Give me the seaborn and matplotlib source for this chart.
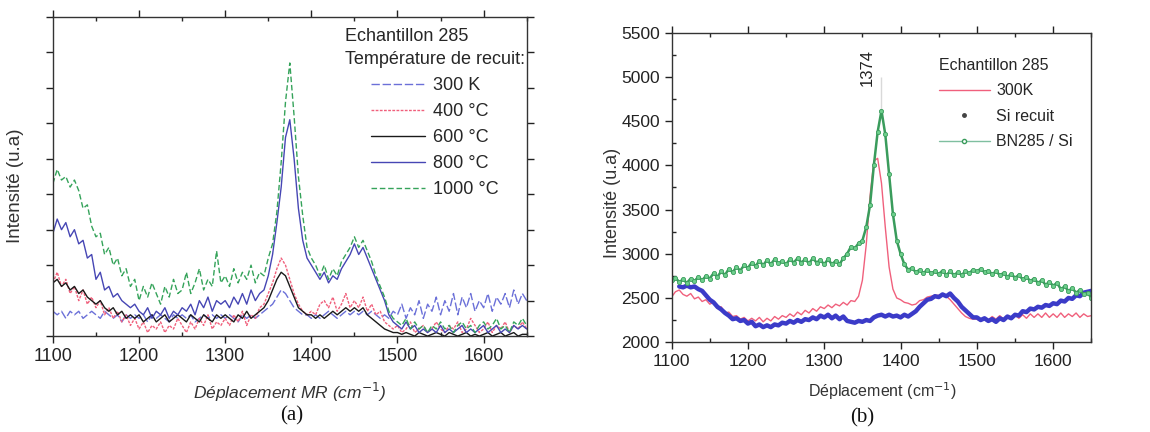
import numpy as np
import pandas as pd
import matplotlib
matplotlib.use("Agg")
import matplotlib.pyplot as plt
import seaborn as sns
from matplotlib.lines import Line2D
from matplotlib.ticker import MultipleLocator

# ---------------- data ----------------
wavenumber = np.arange(1100, 1651, 5)

# panel (a) : intensity (arbitrary units)
a_300K = [0.7, 0.6, 0.7, 0.5, 0.7, 0.6, 0.7, 0.5, 0.6, 0.7,
          0.6, 0.5, 0.7, 0.6, 0.5, 0.6, 0.4, 0.6, 0.5, 0.6,
          0.5, 0.6, 0.4, 0.6, 0.5, 0.6, 0.5, 0.4, 0.6, 0.5,
          0.6, 0.5, 0.6, 0.4, 0.5, 0.6, 0.5, 0.6, 0.5, 0.6,
          0.5, 0.6, 0.5, 0.4, 0.6, 0.5, 0.6, 0.5, 0.6, 0.7,
          0.8, 0.9, 1.1, 1.3, 1.2, 1.0, 0.8, 0.7, 0.6, 0.6,
          0.5, 0.6, 0.5, 0.6, 0.7, 0.6, 0.5, 0.6, 0.7, 0.6,
          0.7, 0.6, 0.7, 0.6, 0.7, 0.6, 0.5, 0.6, 0.5, 0.7,
          0.6, 0.9, 0.5, 0.8, 0.6, 1.0, 0.5, 0.9, 0.7, 1.1,
          0.6, 1.0, 0.7, 1.2, 0.6, 1.1, 0.8, 1.2, 0.7, 1.0,
          0.8, 1.2, 0.7, 1.1, 0.9, 1.2, 0.8, 1.3, 0.9, 1.2,
          1.0]
a_400C = [1.5, 1.8, 1.4, 1.6, 1.2, 1.4, 1.0, 1.3, 0.9, 1.1,
          0.8, 1.0, 0.6, 0.8, 0.5, 0.7, 0.4, 0.6, 0.3, 0.5,
          0.2, 0.4, 0.1, 0.3, 0.2, 0.4, 0.1, 0.3, 0.2, 0.5,
          0.3, 0.1, 0.4, 0.2, 0.5, 0.3, 0.6, 0.2, 0.4, 0.3,
          0.5, 0.3, 0.6, 0.4, 0.7, 0.3, 0.6, 0.5, 0.8, 0.9,
          1.2, 1.5, 1.9, 2.2, 2.0, 1.6, 1.2, 0.9, 0.7, 0.6,
          0.7, 0.6, 0.9, 1.0, 0.8, 1.1, 0.7, 0.9, 1.2, 0.8,
          1.0, 0.8, 1.1, 0.7, 0.9, 0.6, 0.7, 0.4, 0.3, 0.2,
          0.3, 0.1, 0.2, 0.4, 0.1, 0.2, 0.3, 0.1, 0.2, 0.4,
          0.2, 0.1, 0.3, 0.2, 0.4, 0.1, 0.2, 0.5, 0.3, 0.1,
          0.2, 0.4, 0.1, 0.3, 0.2, 0.4, 0.1, 0.3, 0.2, 0.4,
          0.2]
a_600C = [1.5, 1.6, 1.4, 1.5, 1.3, 1.4, 1.2, 1.3, 1.1, 1.0,
          0.9, 1.0, 0.8, 0.7, 0.8, 0.6, 0.7, 0.5, 0.6, 0.5,
          0.6, 0.4, 0.5, 0.6, 0.4, 0.5, 0.6, 0.4, 0.5, 0.6,
          0.5, 0.4, 0.6, 0.5, 0.4, 0.6, 0.5, 0.4, 0.6, 0.5,
          0.6, 0.5, 0.4, 0.6, 0.5, 0.7, 0.5, 0.6, 0.7, 0.8,
          1.0, 1.3, 1.6, 1.8, 1.7, 1.4, 1.1, 0.8, 0.7, 0.6,
          0.6, 0.5, 0.6, 0.5, 0.6, 0.7, 0.6, 0.7, 0.8, 0.7,
          0.8, 0.7, 0.8, 0.6, 0.5, 0.4, 0.3, 0.2, 0.15, 0.1,
          0.1, 0.05, 0.1, 0.05, 0.0, 0.1, 0.05, 0.0, 0.05, 0.1,
          0.05, 0.0, 0.1, 0.05, 0.0, 0.05, 0.1, 0.0, 0.05, 0.0,
          0.05, 0.1, 0.0, 0.05, 0.1, 0.0, 0.05, 0.1, 0.0, 0.05,
          0.05]
a_800C = [2.9, 3.3, 3.0, 3.2, 2.8, 3.0, 2.6, 2.7, 2.2, 2.3,
          1.6, 1.8, 1.3, 1.4, 1.1, 1.2, 1.0, 0.9, 0.8, 0.9,
          0.7, 0.6, 0.8, 0.5, 0.7, 0.6, 0.8, 0.5, 0.7, 0.6,
          0.8, 0.7, 0.9, 0.6, 1.0, 0.8, 1.1, 0.7, 1.0, 0.9,
          1.0, 0.8, 1.1, 0.9, 1.2, 0.9, 1.3, 1.0, 1.2, 1.3,
          1.7, 2.3, 3.2, 4.2, 5.6, 6.1, 5.0, 3.6, 2.7, 2.2,
          2.0, 1.8, 1.6, 1.8, 1.5, 1.7, 1.6, 1.9, 2.1, 2.3,
          2.6, 2.3, 2.5, 2.2, 1.9, 1.6, 1.3, 1.0, 0.6, 0.4,
          0.3, 0.2, 0.4, 0.2, 0.3, 0.1, 0.2, 0.1, 0.2, 0.1,
          0.3, 0.1, 0.2, 0.1, 0.2, 0.3, 0.1, 0.2, 0.1, 0.2,
          0.3, 0.1, 0.2, 0.3, 0.1, 0.2, 0.1, 0.3, 0.2, 0.3,
          0.2]
a_1000C = [4.3, 4.7, 4.4, 4.5, 4.2, 4.4, 4.1, 3.6, 3.7, 3.1,
           2.8, 2.9, 2.3, 2.5, 2.0, 2.2, 1.7, 1.9, 1.4, 1.6,
           1.0, 1.4, 1.1, 1.5, 1.2, 0.9, 1.4, 1.1, 1.6, 1.2,
           1.3, 1.8, 1.2, 1.5, 1.9, 1.3, 1.6, 1.4, 2.4, 1.5,
           1.7, 1.4, 1.9, 1.5, 1.8, 1.6, 2.0, 1.5, 1.8, 1.7,
           2.2, 2.6, 3.5, 4.9, 6.6, 7.7, 6.2, 4.5, 3.4, 2.5,
           2.2, 2.0, 1.7, 2.0, 1.6, 1.9, 1.7, 2.1, 2.3, 2.5,
           2.8, 2.5, 2.7, 2.4, 2.1, 1.7, 1.4, 1.1, 0.7, 0.5,
           0.4, 0.3, 0.5, 0.2, 0.4, 0.2, 0.3, 0.1, 0.3, 0.2,
           0.4, 0.2, 0.3, 0.1, 0.3, 0.4, 0.2, 0.3, 0.1, 0.3,
           0.4, 0.2, 0.3, 0.5, 0.2, 0.3, 0.1, 0.4, 0.3, 0.5,
           0.3]
a_labels = ["300 K", "400 °C", "600 °C", "800 °C", "1000 °C"]

# panel (b) : intensity (u.a)
b_300K = [2510, 2570, 2590, 2540, 2520, 2550, 2490, 2510, 2460, 2480,
          2430, 2450, 2380, 2400, 2330, 2340, 2290, 2300, 2260, 2280,
          2240, 2270, 2240, 2280, 2230, 2270, 2240, 2290, 2260, 2300,
          2280, 2320, 2290, 2340, 2310, 2360, 2330, 2380, 2350, 2400,
          2380, 2420, 2390, 2430, 2410, 2450, 2420, 2470, 2460, 2520,
          2700, 3100, 3650, 4050, 4080, 3800, 3300, 2850, 2600, 2500,
          2480, 2450, 2440, 2420, 2430, 2470, 2480, 2510, 2520, 2530,
          2530, 2540, 2520, 2480, 2430, 2380, 2330, 2290, 2270, 2260,
          2260, 2240, 2270, 2250, 2290, 2260, 2300, 2260, 2300, 2270,
          2310, 2270, 2310, 2270, 2320, 2280, 2320, 2280, 2330, 2280,
          2320, 2280, 2330, 2280, 2320, 2290, 2330, 2280, 2320, 2290,
          2300]
b_si_recuit = [np.nan, np.nan, 2630, 2620, 2640, 2620, 2630, 2600, 2580, 2530,
               2480, 2450, 2400, 2370, 2330, 2300, 2260, 2270, 2240, 2250,
               2210, 2230, 2180, 2200, 2170, 2190, 2170, 2200, 2190, 2220,
               2210, 2240, 2220, 2250, 2230, 2260, 2250, 2280, 2260, 2300,
               2280, 2310, 2270, 2300, 2260, 2290, 2240, 2230, 2220, 2240,
               2230, 2250, 2240, 2280, 2300, 2310, 2290, 2310, 2290, 2300,
               2280, 2310, 2290, 2320, 2350, 2400, 2440, 2480, 2490, 2520,
               2510, 2540, 2520, 2550, 2500, 2460, 2400, 2360, 2320, 2280,
               2280, 2250, 2270, 2240, 2260, 2230, 2270, 2250, 2290, 2270,
               2310, 2300, 2350, 2340, 2380, 2370, 2400, 2390, 2420, 2410,
               2440, 2430, 2470, 2460, 2500, 2490, 2530, 2520, 2560, 2570,
               2580]
b_bn285_si = [2700, 2730, 2680, 2710, 2670, 2720, 2690, 2740, 2700, 2750,
              2720, 2780, 2740, 2800, 2760, 2830, 2790, 2850, 2810, 2870,
              2840, 2900, 2860, 2920, 2870, 2930, 2880, 2940, 2890, 2920,
              2880, 2940, 2900, 2950, 2900, 2940, 2890, 2950, 2900, 2930,
              2880, 2940, 2880, 2920, 2880, 2950, 3000, 3080, 3060, 3120,
              3150, 3300, 3550, 4000, 4380, 4620, 4350, 3900, 3450, 3150,
              3000, 2880, 2820, 2840, 2790, 2820, 2780, 2820, 2780, 2800,
              2770, 2810, 2760, 2800, 2760, 2790, 2760, 2800, 2780, 2820,
              2800, 2830, 2790, 2810, 2770, 2800, 2760, 2780, 2740, 2770,
              2730, 2760, 2710, 2740, 2690, 2720, 2670, 2700, 2650, 2680,
              2640, 2670, 2600, 2630, 2580, 2610, 2560, 2590, 2540, 2560,
              2500]
b_labels = ["300K", "Si recuit", "BN285 / Si"]
peak_position = 1374
peak_marker_range = [4620, 5000]

# ---------------- figure ----------------
sns.set_theme(style="white")
plt.rcParams["font.family"] = ["Liberation Sans", "DejaVu Sans"]

fig = plt.figure(figsize=(11.5, 4.32), dpi=100)
axA = fig.add_axes([0.046, 0.222, 0.412, 0.739])
axB = fig.add_axes([0.584, 0.208, 0.365, 0.716])

# ---- panel (a)
a_series = [a_300K, a_400C, a_600C, a_800C, a_1000C]
a_colors = ["#6b70d8", "#f0607c", "#1a1a1a", "#4646b4", "#35a35a"]
a_styles = [(0, (6, 2)), (0, (2, 1)), "-", "-", (0, (4, 2))]
for vals, lab, col, ls in zip(a_series, a_labels, a_colors, a_styles):
    sns.lineplot(x=wavenumber, y=vals, ax=axA, color=col, linestyle=ls,
                 linewidth=1.0, label=lab)
axA.set_xlim(1100, 1650)
axA.set_ylim(0, 9)
axA.xaxis.set_major_locator(MultipleLocator(100))
axA.xaxis.set_minor_locator(MultipleLocator(50))
axA.yaxis.set_major_locator(MultipleLocator(1))
axA.set_yticklabels([])
axA.tick_params(axis="both", which="major", direction="out", length=5, width=1,
                colors="#222222", labelsize=13, top=True, right=True,
                left=True, bottom=True)
axA.tick_params(axis="x", which="minor", direction="in", length=3, top=True,
                bottom=True)
for s in axA.spines.values():
    s.set_color("#333333")
    s.set_linewidth(1.0)
axA.set_xlabel("Déplacement MR (cm$^{-1}$)", fontsize=12.5, style="italic",
               color="#333333")
axA.xaxis.set_label_coords(0.5, -0.14)
axA.set_ylabel("Intensité (u.a)", fontsize=13.5, color="#333333")
axA.yaxis.set_label_coords(-0.062, 0.47)
legA = axA.legend(title="Echantillon 285\nTempérature de recuit:", frameon=False,
                  loc="upper right", bbox_to_anchor=(1.03, 1.015), fontsize=13,
                  title_fontsize=13, handlelength=3.0, labelspacing=0.5,
                  handletextpad=0.4)
legA.get_title().set_linespacing(1.45)
fig.text(0.254, 0.038, "(a)", fontsize=15, family="Liberation Serif",
         ha="center", va="center", color="#111111")

# ---- panel (b)
sns.lineplot(x=wavenumber, y=b_300K, ax=axB, color="#f0607c", linewidth=1.0)
sns.lineplot(x=wavenumber, y=b_si_recuit, ax=axB, color="#3b3bc8",
             linewidth=3.2)
sns.lineplot(x=wavenumber, y=b_bn285_si, ax=axB, color="#3a9c5c",
             linewidth=1.8, marker="o", markersize=3,
             markerfacecolor="#6fcf8d", markeredgecolor="#3a9c5c",
             markeredgewidth=0.6)
sns.lineplot(x=[peak_position, peak_position], y=peak_marker_range, ax=axB,
             color="#444444", linestyle=(0, (3, 2)), linewidth=0.8)
axB.text(1356, 5110, str(peak_position), rotation=90, ha="center",
         va="center", fontsize=12, color="#222222")
axB.set_xlim(1100, 1650)
axB.set_ylim(2000, 5500)
axB.xaxis.set_major_locator(MultipleLocator(100))
axB.xaxis.set_minor_locator(MultipleLocator(50))
axB.yaxis.set_major_locator(MultipleLocator(500))
axB.yaxis.set_minor_locator(MultipleLocator(250))
axB.tick_params(axis="both", which="major", direction="out", length=5, width=1,
                colors="#222222", labelsize=12.5, top=True, left=True,
                bottom=True)
axB.tick_params(axis="both", which="minor", direction="in", length=3,
                top=True, left=True, bottom=True)
for s in axB.spines.values():
    s.set_color("#333333")
    s.set_linewidth(1.0)
axB.set_xlabel("Déplacement (cm$^{-1}$)", fontsize=11.5, color="#333333")
axB.xaxis.set_label_coords(0.503, -0.122)
axB.set_ylabel("Intensité (u.a)", fontsize=13, color="#333333")
axB.yaxis.set_label_coords(-0.12, 0.45)
handlesB = [
    Line2D([], [], color="#f0607c", linewidth=1.0),
    Line2D([], [], color="#444444", linestyle="none", marker="o",
           markersize=2.5),
    Line2D([], [], color="#7fbfa0", linewidth=1.0, marker="o", markersize=3,
           markerfacecolor="white", markeredgecolor="#3a9c5c"),
]
legB = axB.legend(handlesB, b_labels, title="Echantillon 285", frameon=False,
                  loc="upper right", bbox_to_anchor=(0.99, 0.965), fontsize=11.5,
                  title_fontsize=11.5, handlelength=3.2, labelspacing=0.65,
                  handletextpad=0.4, alignment="left")
fig.text(0.75, 0.032, "(b)", fontsize=15, family="Liberation Serif",
         ha="center", va="center", color="#111111")

fig.savefig("out.png", dpi=100, facecolor="white")
